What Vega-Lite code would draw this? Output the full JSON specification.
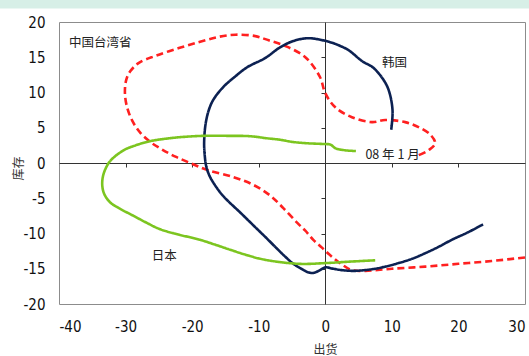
{
  "$schema": "https://vega.github.io/schema/vega-lite/v6.json",
  "width": 466,
  "height": 282,
  "autosize": "none",
  "padding": {"left": 59, "top": 22, "right": 4, "bottom": 52},
  "background": "white",
  "config": {"view": {"stroke": "#8c8c8c", "strokeWidth": 1}},
  "datasets": {
    "series": [
      {"s": "中国台湾省", "i": 1, "x": 30.0, "y": -13.4},
      {"s": "中国台湾省", "i": 2, "x": 25, "y": -13.9},
      {"s": "中国台湾省", "i": 3, "x": 20, "y": -14.3},
      {"s": "中国台湾省", "i": 4, "x": 15, "y": -14.7},
      {"s": "中国台湾省", "i": 5, "x": 10, "y": -15.0},
      {"s": "中国台湾省", "i": 6, "x": 6, "y": -15.3},
      {"s": "中国台湾省", "i": 7, "x": 4, "y": -15.2},
      {"s": "中国台湾省", "i": 8, "x": 2.5, "y": -14.4},
      {"s": "中国台湾省", "i": 9, "x": 1, "y": -13.3},
      {"s": "中国台湾省", "i": 10, "x": -0.5, "y": -12.0},
      {"s": "中国台湾省", "i": 11, "x": -1.8, "y": -10.9},
      {"s": "中国台湾省", "i": 12, "x": -3, "y": -9.6},
      {"s": "中国台湾省", "i": 13, "x": -4.2, "y": -8.5},
      {"s": "中国台湾省", "i": 14, "x": -6.3, "y": -6.4},
      {"s": "中国台湾省", "i": 15, "x": -8.3, "y": -4.6},
      {"s": "中国台湾省", "i": 16, "x": -10.8, "y": -3.1},
      {"s": "中国台湾省", "i": 17, "x": -13.8, "y": -2.0},
      {"s": "中国台湾省", "i": 18, "x": -17.7, "y": -1.0},
      {"s": "中国台湾省", "i": 19, "x": -20.3, "y": 0.0},
      {"s": "中国台湾省", "i": 20, "x": -22.5, "y": 0.9},
      {"s": "中国台湾省", "i": 21, "x": -24.5, "y": 1.9},
      {"s": "中国台湾省", "i": 22, "x": -26.3, "y": 3.0},
      {"s": "中国台湾省", "i": 23, "x": -27.8, "y": 4.3},
      {"s": "中国台湾省", "i": 24, "x": -29.0, "y": 6.0},
      {"s": "中国台湾省", "i": 25, "x": -29.8, "y": 8.0},
      {"s": "中国台湾省", "i": 26, "x": -30.1, "y": 10.0},
      {"s": "中国台湾省", "i": 27, "x": -29.9, "y": 11.8},
      {"s": "中国台湾省", "i": 28, "x": -29.3, "y": 13.0},
      {"s": "中国台湾省", "i": 29, "x": -28.0, "y": 14.2},
      {"s": "中国台湾省", "i": 30, "x": -25.5, "y": 15.2},
      {"s": "中国台湾省", "i": 31, "x": -22.0, "y": 16.3},
      {"s": "中国台湾省", "i": 32, "x": -18.8, "y": 17.2},
      {"s": "中国台湾省", "i": 33, "x": -16.0, "y": 17.9},
      {"s": "中国台湾省", "i": 34, "x": -13.5, "y": 18.2},
      {"s": "中国台湾省", "i": 35, "x": -10.5, "y": 18.0},
      {"s": "中国台湾省", "i": 36, "x": -8.5, "y": 17.4},
      {"s": "中国台湾省", "i": 37, "x": -6.0, "y": 16.6},
      {"s": "中国台湾省", "i": 38, "x": -3.0, "y": 15.0},
      {"s": "中国台湾省", "i": 39, "x": -0.8, "y": 12.2},
      {"s": "中国台湾省", "i": 40, "x": 0.0, "y": 9.9},
      {"s": "中国台湾省", "i": 41, "x": 1.5, "y": 7.9},
      {"s": "中国台湾省", "i": 42, "x": 4.0, "y": 6.5},
      {"s": "中国台湾省", "i": 43, "x": 7.0, "y": 5.8},
      {"s": "中国台湾省", "i": 44, "x": 9.0, "y": 6.1},
      {"s": "中国台湾省", "i": 45, "x": 12.0, "y": 5.8},
      {"s": "中国台湾省", "i": 46, "x": 14.0, "y": 5.1},
      {"s": "中国台湾省", "i": 47, "x": 15.8, "y": 4.0},
      {"s": "中国台湾省", "i": 48, "x": 16.5, "y": 2.8},
      {"s": "中国台湾省", "i": 49, "x": 15.5, "y": 1.8},
      {"s": "中国台湾省", "i": 50, "x": 14.0, "y": 1.1},
      {"s": "韩国", "i": 1, "x": 23.7, "y": -8.7},
      {"s": "韩国", "i": 2, "x": 21.5, "y": -9.8},
      {"s": "韩国", "i": 3, "x": 19.0, "y": -10.9},
      {"s": "韩国", "i": 4, "x": 17.0, "y": -11.9},
      {"s": "韩国", "i": 5, "x": 15.0, "y": -12.8},
      {"s": "韩国", "i": 6, "x": 13.0, "y": -13.6},
      {"s": "韩国", "i": 7, "x": 11.0, "y": -14.2},
      {"s": "韩国", "i": 8, "x": 9.0, "y": -14.7},
      {"s": "韩国", "i": 9, "x": 7.5, "y": -15.0},
      {"s": "韩国", "i": 10, "x": 4.5, "y": -15.3},
      {"s": "韩国", "i": 11, "x": 2.5, "y": -15.2},
      {"s": "韩国", "i": 12, "x": 1.2, "y": -15.0},
      {"s": "韩国", "i": 13, "x": 0.0, "y": -14.8},
      {"s": "韩国", "i": 14, "x": -0.8, "y": -15.2},
      {"s": "韩国", "i": 15, "x": -1.8, "y": -15.6},
      {"s": "韩国", "i": 16, "x": -2.6, "y": -15.5},
      {"s": "韩国", "i": 17, "x": -3.6, "y": -15.0},
      {"s": "韩国", "i": 18, "x": -4.8, "y": -14.3},
      {"s": "韩国", "i": 19, "x": -6.0, "y": -13.3},
      {"s": "韩国", "i": 20, "x": -7.2, "y": -12.2},
      {"s": "韩国", "i": 21, "x": -9.0, "y": -10.5},
      {"s": "韩国", "i": 22, "x": -10.2, "y": -9.4},
      {"s": "韩国", "i": 23, "x": -11.5, "y": -8.2},
      {"s": "韩国", "i": 24, "x": -12.8, "y": -7.0},
      {"s": "韩国", "i": 25, "x": -14.6, "y": -5.4},
      {"s": "韩国", "i": 26, "x": -15.6, "y": -4.4},
      {"s": "韩国", "i": 27, "x": -16.6, "y": -3.1},
      {"s": "韩国", "i": 28, "x": -17.4, "y": -1.8},
      {"s": "韩国", "i": 29, "x": -17.9, "y": -0.4},
      {"s": "韩国", "i": 30, "x": -18.1, "y": 1.0},
      {"s": "韩国", "i": 31, "x": -18.2, "y": 2.8},
      {"s": "韩国", "i": 32, "x": -18.0, "y": 5.4},
      {"s": "韩国", "i": 33, "x": -17.5, "y": 7.5},
      {"s": "韩国", "i": 34, "x": -16.8, "y": 9.0},
      {"s": "韩国", "i": 35, "x": -15.3, "y": 10.8},
      {"s": "韩国", "i": 36, "x": -13.5, "y": 12.3},
      {"s": "韩国", "i": 37, "x": -11.7, "y": 13.6},
      {"s": "韩国", "i": 38, "x": -9.0, "y": 14.9},
      {"s": "韩国", "i": 39, "x": -6.8, "y": 16.4},
      {"s": "韩国", "i": 40, "x": -4.8, "y": 17.3},
      {"s": "韩国", "i": 41, "x": -2.5, "y": 17.7},
      {"s": "韩国", "i": 42, "x": 0.5, "y": 17.2},
      {"s": "韩国", "i": 43, "x": 2.0, "y": 16.7},
      {"s": "韩国", "i": 44, "x": 3.5, "y": 16.0},
      {"s": "韩国", "i": 45, "x": 5.6, "y": 14.4},
      {"s": "韩国", "i": 46, "x": 7.1, "y": 13.6},
      {"s": "韩国", "i": 47, "x": 8.6, "y": 12.0},
      {"s": "韩国", "i": 48, "x": 9.5, "y": 10.4},
      {"s": "韩国", "i": 49, "x": 10.1, "y": 7.5},
      {"s": "韩国", "i": 50, "x": 9.9, "y": 4.7},
      {"s": "日本", "i": 1, "x": 7.5, "y": -13.8},
      {"s": "日本", "i": 2, "x": 3.5, "y": -14.0},
      {"s": "日本", "i": 3, "x": 0.0, "y": -14.2},
      {"s": "日本", "i": 4, "x": -4.0, "y": -14.3},
      {"s": "日本", "i": 5, "x": -9.2, "y": -13.7},
      {"s": "日本", "i": 6, "x": -12.0, "y": -13.0},
      {"s": "日本", "i": 7, "x": -14.3, "y": -12.3},
      {"s": "日本", "i": 8, "x": -16.5, "y": -11.6},
      {"s": "日本", "i": 9, "x": -18.8, "y": -10.9},
      {"s": "日本", "i": 10, "x": -21.8, "y": -10.2},
      {"s": "日本", "i": 11, "x": -24.8, "y": -9.4},
      {"s": "日本", "i": 12, "x": -27.0, "y": -8.4},
      {"s": "日本", "i": 13, "x": -28.8, "y": -7.5},
      {"s": "日本", "i": 14, "x": -31.0, "y": -6.4},
      {"s": "日本", "i": 15, "x": -32.3, "y": -5.6},
      {"s": "日本", "i": 16, "x": -33.2, "y": -4.4},
      {"s": "日本", "i": 17, "x": -33.5, "y": -3.2},
      {"s": "日本", "i": 18, "x": -33.4, "y": -1.9},
      {"s": "日本", "i": 19, "x": -33.0, "y": -0.8},
      {"s": "日本", "i": 20, "x": -32.3, "y": 0.3},
      {"s": "日本", "i": 21, "x": -30.3, "y": 1.8},
      {"s": "日本", "i": 22, "x": -28.5, "y": 2.5},
      {"s": "日本", "i": 23, "x": -26.3, "y": 3.1},
      {"s": "日本", "i": 24, "x": -23.5, "y": 3.5},
      {"s": "日本", "i": 25, "x": -21.3, "y": 3.7},
      {"s": "日本", "i": 26, "x": -18.3, "y": 3.85},
      {"s": "日本", "i": 27, "x": -14.3, "y": 3.85},
      {"s": "日本", "i": 28, "x": -11.3, "y": 3.8},
      {"s": "日本", "i": 29, "x": -8.7, "y": 3.5},
      {"s": "日本", "i": 30, "x": -6.8, "y": 3.3},
      {"s": "日本", "i": 31, "x": -5.0, "y": 3.0},
      {"s": "日本", "i": 32, "x": -2.7, "y": 2.8},
      {"s": "日本", "i": 33, "x": -0.5, "y": 2.7},
      {"s": "日本", "i": 34, "x": 0.8, "y": 2.6},
      {"s": "日本", "i": 35, "x": 1.5, "y": 2.1},
      {"s": "日本", "i": 36, "x": 3.0, "y": 1.8},
      {"s": "日本", "i": 37, "x": 4.6, "y": 1.7}
    ],
    "labels": [
      {"label": "中国台湾省", "x": -33.8, "y": 17.0},
      {"label": "韩国", "x": 10.4, "y": 14.2},
      {"label": "08 年 1 月", "x": 10.1, "y": 1.1},
      {"label": "日本", "x": -24.2, "y": -13.2}
    ]
  },
  "layer": [
    {
      "data": {"values": [{}]},
      "mark": {"type": "rect", "fill": "#d7efe7", "opacity": 1, "clip": false},
      "encoding": {
        "x": {"datum": -49, "type": "quantitative", "axis": null},
        "x2": {"datum": 31},
        "y": {"datum": 23.3, "type": "quantitative", "axis": null},
        "y2": {"datum": 21.9}
      }
    },
    {
      "data": {"name": "series"},
      "mark": {"type": "point", "opacity": 0},
      "encoding": {
        "x": {
          "field": "x", "type": "quantitative",
          "scale": {"domain": [-40, 30], "nice": false, "zero": false},
          "axis": {
            "orient": "bottom", "offset": -141, "values": [-30, -20, -10, 10, 20],
            "labels": false, "title": null, "grid": false,
            "domainColor": "#333333", "domainWidth": 1,
            "tickColor": "#333333", "tickSize": 4, "tickWidth": 1
          }
        },
        "y": {
          "field": "y", "type": "quantitative",
          "scale": {"domain": [-20, 20], "nice": false, "zero": false},
          "axis": {
            "orient": "left", "offset": -266, "values": [-15, -10, -5, 5, 10, 15],
            "labels": false, "title": null, "grid": false,
            "domainColor": "#333333", "domainWidth": 1,
            "tickColor": "#333333", "tickSize": 4, "tickWidth": 1
          }
        }
      }
    },
    {
      "data": {"name": "series"},
      "mark": {"type": "line", "interpolate": "catmull-rom", "strokeWidth": 2.6},
      "encoding": {
        "x": {
          "field": "x", "type": "quantitative",
          "axis": {
            "orient": "bottom", "values": [-40, -30, -20, -10, 0, 10, 20, 30],
            "labelExpr": "datum.value + ''",
            "ticks": false, "domain": false, "grid": false,
            "labelFont": "Liberation Sans Narrow, DejaVu Sans Condensed, Arial Narrow, sans-serif", "labelFontSize": 15, "labelColor": "#111111",
            "labelPadding": 15,
            "title": "出货", "titleFont": "Noto Sans CJK SC", "titleFontSize": 12,
            "titleFontWeight": "normal", "titleColor": "#333333",
            "titleX": 266, "titleY": 45, "titleBaseline": "middle", "titleAlign": "center"
          }
        },
        "y": {
          "field": "y", "type": "quantitative",
          "axis": {
            "orient": "left", "values": [-20, -15, -10, -5, 0, 5, 10, 15, 20],
            "labelExpr": "datum.value + ''",
            "ticks": false, "domain": false, "grid": false,
            "labelFont": "Liberation Sans Narrow, DejaVu Sans Condensed, Arial Narrow, sans-serif", "labelFontSize": 15, "labelColor": "#111111",
            "labelPadding": 14,
            "title": "库存", "titleFont": "Noto Sans CJK SC", "titleFontSize": 12,
            "titleFontWeight": "normal", "titleColor": "#333333",
            "titleX": -41, "titleY": 146, "titleBaseline": "middle", "titleAlign": "center", "titleAngle": -90
          }
        },
        "color": {
          "field": "s", "type": "nominal",
          "scale": {"domain": ["中国台湾省", "韩国", "日本"], "range": ["#ff2020", "#0c2152", "#7cc520"]},
          "legend": null
        },
        "strokeDash": {
          "field": "s", "type": "nominal",
          "scale": {"domain": ["中国台湾省", "韩国", "日本"], "range": [[7, 4], [1, 0], [1, 0]]},
          "legend": null
        },
        "order": {"field": "i", "type": "quantitative"}
      }
    },
    {
      "data": {"name": "labels"},
      "mark": {"type": "text", "font": "Noto Sans CJK SC", "fontSize": 12.5, "color": "#222222", "align": "center", "baseline": "middle"},
      "encoding": {
        "x": {"field": "x", "type": "quantitative", "axis": null},
        "y": {"field": "y", "type": "quantitative", "axis": null},
        "text": {"field": "label"}
      }
    }
  ],
  "resolve": {"axis": {"x": "independent", "y": "independent"}}
}
